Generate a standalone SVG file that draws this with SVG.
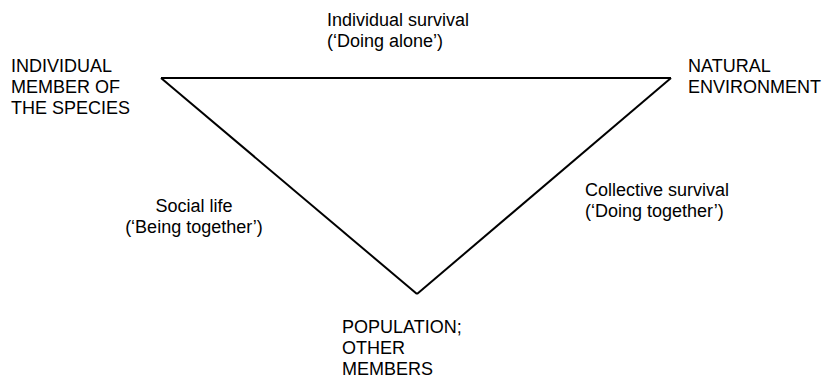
<svg xmlns="http://www.w3.org/2000/svg" width="827" height="379" viewBox="0 0 827 379">
  <style>
    text { font-family: "Liberation Sans", Arial, sans-serif; font-size: 18px; fill: #000; }
    .mid { text-anchor: middle; }
    .edge { fill: none; stroke: #000; stroke-width: 2; stroke-linejoin: miter; }
  </style>
  <rect width="827" height="379" fill="#fff"/>

  <!-- triangle sides -->
  <g id="connectors">
    <line class="edge" x1="161" y1="78" x2="671" y2="78"/>
    <line class="edge" x1="161" y1="78" x2="417" y2="294"/>
    <line class="edge" x1="671" y1="78" x2="417" y2="294"/>
  </g>

  <!-- corners -->
  <g id="individual-member">
    <text x="11" y="72">INDIVIDUAL</text>
    <text x="11" y="93">MEMBER OF</text>
    <text x="11" y="114">THE SPECIES</text>
  </g>
  <g id="natural-environment">
    <text x="688" y="72">NATURAL</text>
    <text x="688" y="93">ENVIRONMENT</text>
  </g>
  <g id="population">
    <text x="342" y="333">POPULATION;</text>
    <text x="342" y="354">OTHER</text>
    <text x="342" y="375">MEMBERS</text>
  </g>

  <!-- side labels -->
  <g id="individual-survival">
    <text x="327" y="26">Individual survival</text>
    <text x="327" y="47">(‘Doing alone’)</text>
  </g>
  <g id="social-life">
    <text class="mid" x="194" y="212">Social life</text>
    <text class="mid" x="194" y="233">(‘Being together’)</text>
  </g>
  <g id="collective-survival">
    <text x="585" y="196">Collective survival</text>
    <text x="585" y="217">(‘Doing together’)</text>
  </g>
</svg>
